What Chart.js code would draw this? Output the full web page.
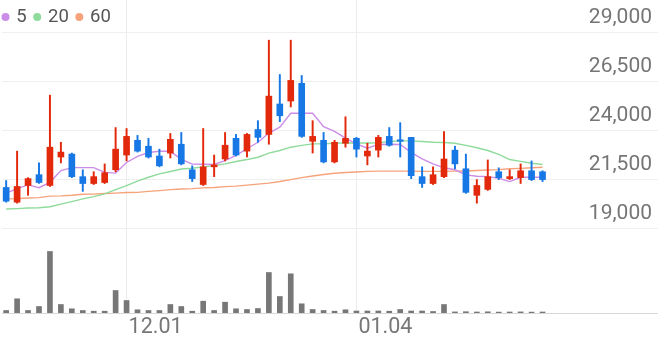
<!DOCTYPE html>
<html><head><meta charset="utf-8">
<script src="https://cdn.jsdelivr.net/npm/chart.js@4"></script>
<style>html,body{margin:0;padding:0;background:#fff}#wrap{width:658px;height:342px}</style>
</head><body><div id="wrap"><canvas id="c" width="658" height="342"></canvas></div>
<script>
const dates = ['11.16','11.17','11.18','11.19','11.20','11.23','11.24','11.25','11.26','11.27','11.30',
  '12.01','12.02','12.03','12.04','12.07','12.08','12.09','12.10','12.11','12.14','12.15','12.16','12.17','12.18',
  '12.21','12.22','12.23','12.24','12.28','12.29','12.30',
  '01.04','01.05','01.06','01.07','01.08','01.11','01.12','01.13','01.14','01.15','01.18','01.19','01.20','01.21','01.22',
  '01.25','01.26','01.27'];
const openP  = [21100,20350,21200,21750,21200,22650,22800,21650,21300,21350,
  22000,22750,23500,23200,22700,22850,23300,22000,21250,22150,
  22550,23600,22950,24050,23800,25350,25500,26400,23450,23500,
  22400,23350,23600,22700,23000,23700,23500,23650,21650,21300,
  21650,23000,22050,20700,21000,21900,21550,21600,21950,21900];
const highP  = [21450,22950,21600,22350,25800,23400,22850,22000,21900,22300,
  24150,24100,23750,23600,23050,23850,23900,22200,24100,22750,
  23900,23800,23850,24500,28600,26850,28600,26800,24500,23900,
  23500,24700,23650,23350,23750,24150,24400,23650,22150,22150,
  23950,23200,22800,21500,22500,22100,22000,22300,22450,21950];
const lowP   = [20350,20300,20700,21300,21150,22350,21600,20900,21250,21300,
  21900,22450,22900,22600,22150,22600,22250,21400,21200,21650,
  22450,22700,22650,23400,23300,24450,25200,23650,22850,22350,
  22350,23150,22650,22250,22650,23200,22650,21550,21100,21250,
  21600,22050,20800,20300,20950,21500,21500,21300,21450,21400];
const closeP = [20400,21150,21550,21350,23150,22900,21650,21300,21650,21850,
  23050,23700,22950,22650,22200,23550,22300,21550,22150,22250,
  23250,22750,23800,23650,25750,24750,26550,23700,23700,22400,
  23400,23600,23050,22950,23650,23250,23450,21700,21300,21750,
  22550,22300,20850,21200,21650,21600,21650,21950,21500,21500];
const volume = [50000,284000,50000,130000,1230000,170000,84000,50000,36000,36000,
  450000,250000,64000,50000,50000,170000,130000,36000,236000,50000,
  216000,84000,70000,90000,810000,330000,784000,184000,70000,50000,
  36000,64000,40000,40000,40000,36000,70000,40000,40000,30000,
  170000,22000,26000,20000,24000,18000,20000,22000,18000,20000];
const ma5  = [20810,21040,21230,21090,21360,21960,22110,22110,22110,21870,
  21830,22370,22680,22880,22940,22940,22530,22290,22280,22270,
  22470,22730,23070,23400,23870,24170,24880,24880,24880,24200,
  23950,23610,23320,23100,23290,23300,23290,22890,22560,22300,
  22100,22000,21740,21670,21650,21570,21400,21620,21620,21620];
const ma20 = [20000,20020,20050,20070,20120,20250,20380,20520,20630,20770,
  20990,21190,21420,21620,21790,21910,22040,22080,22150,22210,
  22300,22420,22520,22640,22850,22980,23150,23240,23320,23320,
  23350,23370,23360,23360,23370,23440,23470,23470,23440,23400,
  23390,23350,23240,23120,22980,22780,22520,22430,22330,22270];
const ma60 = [20520,20530,20560,20580,20660,20670,20700,20750,20760,20790,
  20810,20840,20850,20900,20940,20990,21020,21040,21080,21100,
  21140,21170,21220,21270,21320,21400,21500,21600,21680,21760,
  21820,21860,21890,21920,21930,21930,21930,21930,21920,21920,
  21920,21930,21940,21960,21990,22010,22050,22070,22100,22130];
const priceTicks = [19000,21500,24000,26500,29000];
const markedDates = ['12.01','01.04'];
const maLabels = ['5','20','60'];

const UP = '#e2290b', DOWN = '#1677e5';
const isUp = i => closeP[i] >= openP[i];
const candleColor = ctx => isUp(ctx.dataIndex) ? UP : DOWN;
const idx = dates.map((d, i) => i);

const legendPlugin = {
  id: 'maLegend',
  afterDraw(chart) {
    const ctx = chart.ctx;
    ctx.save();
    ctx.font = '18.5px Roboto';
    ctx.textBaseline = 'middle';
    ctx.textAlign = 'left';
    let x = 1.5; const y = 17;
    chart.data.datasets.filter(d => d.type === 'line').forEach(d => {
      ctx.fillStyle = d.borderColor;
      ctx.beginPath(); ctx.arc(x + 4, y, 4, 0, Math.PI * 2); ctx.fill();
      ctx.fillStyle = '#555';
      ctx.fillText(d.label, x + 14.8, y + 0.5);
      x += 14.8 + ctx.measureText(d.label).width + 6.5;
    });
    ctx.restore();
  }
};

new Chart(document.getElementById('c'), {
  type: 'bar',
  data: {
    datasets: [
      { type: 'bar', label: 'body', data: idx.map(i => ({x: i, y: [openP[i], closeP[i]]})),
        yAxisID: 'y', barThickness: 6, grouped: false, minBarLength: 1.5,
        backgroundColor: candleColor, borderWidth: 0, order: 1 },
      { type: 'bar', label: 'wick', data: idx.map(i => ({x: i, y: [lowP[i], highP[i]]})),
        yAxisID: 'y', barThickness: 1.3, grouped: false,
        backgroundColor: candleColor, borderWidth: 0, order: 2 },
      { type: 'bar', label: 'volume', data: idx.map(i => ({x: i, y: volume[i]})),
        yAxisID: 'yv', barThickness: 5, grouped: false,
        backgroundColor: '#777777', borderWidth: 0, order: 3 },
      { type: 'line', label: maLabels[0], data: idx.map(i => ({x: i, y: ma5[i]})), yAxisID: 'y',
        borderColor: '#cc8de8', borderWidth: 1.4, pointRadius: 0, tension: 0, order: 4 },
      { type: 'line', label: maLabels[1], data: idx.map(i => ({x: i, y: ma20[i]})), yAxisID: 'y',
        borderColor: '#8edb9b', borderWidth: 1.4, pointRadius: 0, tension: 0, order: 5 },
      { type: 'line', label: maLabels[2], data: idx.map(i => ({x: i, y: ma60[i]})), yAxisID: 'y',
        borderColor: '#f6a37b', borderWidth: 1.4, pointRadius: 0, tension: 0, order: 6 }
    ]
  },
  options: {
    responsive: false, animation: false, devicePixelRatio: 1,
    layout: { padding: { left: 2, right: 0, top: 0, bottom: 0 } },
    plugins: { legend: { display: false }, tooltip: { enabled: false } },
    scales: {
      x: {
        type: 'linear', min: -0.38, max: 59.55, offset: false, bounds: 'data',
        afterBuildTicks: s => { s.ticks = markedDates.map(d => ({ value: dates.indexOf(d) })); },
        afterFit: s => { s.height = 29; s.paddingLeft = 0; s.paddingRight = 0; },
        grid: { color: '#ececec', drawTicks: false, lineWidth: 1, offset: false },
        border: { display: true, color: '#d8d8d8', width: 1 },
        ticks: { autoSkip: false, maxRotation: 0, align: 'start', labelOffset: 2, padding: 2,
          color: '#777', font: { family: 'Roboto', size: 21.5 },
          callback: v => dates[v] }
      },
      y: {
        position: 'right', min: 14707, max: 30645,
        afterBuildTicks: s => { s.ticks = priceTicks.map(v => ({ value: v })); },
        afterFit: s => { s.width = 0; s.paddingTop = 0; s.paddingBottom = 0; },
        grid: { color: '#efefef', drawTicks: false },
        border: { display: false },
        ticks: { mirror: true, padding: -6, labelOffset: -15, color: '#757575',
          font: { family: 'Roboto', size: 21 },
          callback: v => Number(v).toLocaleString('en-US') }
      },
      yv: { display: false, min: 0, max: 6260000 }
    }
  },
  plugins: [legendPlugin]
});
</script>
</body></html>
